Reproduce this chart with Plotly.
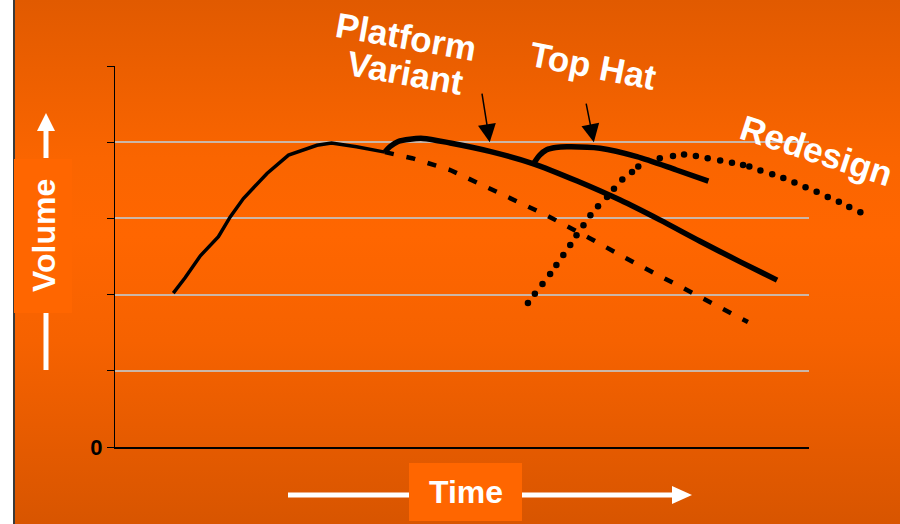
import base64
import plotly.graph_objects as go

# Product volume over time (time 0-100, volume 0-5)
base_t = [8.4, 10.1, 12.3, 14.9, 16.6, 18.5, 21.9, 25.0, 29.1, 31.2, 34.8, 38.9]
base_v = [2.02, 2.22, 2.51, 2.76, 3.02, 3.26, 3.59, 3.83, 3.96, 3.99, 3.94, 3.87]

decline_t = [38.9, 42.8, 48.3, 55.5, 62.1, 68.4, 74.9, 81.8, 91.2]
decline_v = [3.87, 3.79, 3.635, 3.33, 3.045, 2.74, 2.415, 2.09, 1.64]

platform_t = [38.9, 39.6, 40.8, 42.5, 44.4, 48.3, 54.0, 60.2, 66.6, 72.8, 78.5, 84.3, 90.1, 95.4]
platform_v = [3.87, 3.94, 4.01, 4.04, 4.05, 3.99, 3.88, 3.72, 3.49, 3.24, 2.98, 2.70, 2.43, 2.19]

tophat_t = [60.4, 61.2, 62.2, 63.5, 65.1, 69.9, 75.2, 80.9, 85.5]
tophat_v = [3.73, 3.83, 3.90, 3.93, 3.94, 3.92, 3.81, 3.635, 3.49]

redesign_t = [59.5, 60.5, 61.6, 62.7, 63.6, 64.6, 65.6, 66.5, 67.5, 68.5, 69.6, 70.9,
              71.9, 73.1, 74.5, 75.4, 78.5, 80.4, 82.0, 83.7, 85.4, 87.2, 88.9, 90.5,
              91.4, 93.0, 94.7, 96.3, 97.9, 99.5, 101.1, 102.7, 104.3, 105.8, 107.4]
redesign_v = [1.89, 2.01, 2.14, 2.27, 2.39, 2.52, 2.65, 2.78, 2.91, 3.04, 3.16, 3.28,
              3.39, 3.51, 3.61, 3.68, 3.79, 3.82, 3.84, 3.82, 3.79, 3.76, 3.73, 3.70,
              3.68, 3.63, 3.58, 3.53, 3.47, 3.41, 3.35, 3.28, 3.22, 3.15, 3.08]

y_ticks = [0, 1, 2, 3, 4, 5]
y_ticktext = ["0", "", "", "", "", ""]

W, H = 900, 524
FONT = "Arial, Liberation Sans, sans-serif"

# plot area in pixels
PX_L, PX_R, PX_T, PX_B = 115, 809, 66, 447
T_MAX = 100
T_EXT = 110  # the redesign curve runs past the end of the time axis


def fx(px):
    return px / W


def fy(py):
    return 1 - py / H


px_per_t = (PX_R - PX_L) / T_MAX

fig = go.Figure()
fig.add_trace(go.Scatter(x=base_t, y=base_v, mode="lines",
                         line=dict(color="black", width=3.5), hoverinfo="skip"))
fig.add_trace(go.Scatter(x=decline_t, y=decline_v, mode="lines",
                         line=dict(color="black", width=4.5, dash="9px,13px"), hoverinfo="skip"))
fig.add_trace(go.Scatter(x=platform_t, y=platform_v, mode="lines",
                         line=dict(color="black", width=5.5, shape="spline", smoothing=0.8),
                         hoverinfo="skip"))
fig.add_trace(go.Scatter(x=tophat_t, y=tophat_v, mode="lines",
                         line=dict(color="black", width=5.5, shape="spline", smoothing=0.8),
                         hoverinfo="skip"))
fig.add_trace(go.Scatter(x=redesign_t, y=redesign_v, mode="markers", xaxis="x2", yaxis="y2",
                         marker=dict(color="black", size=6.5), hoverinfo="skip"))

# orange background gradient
svg = ('<svg xmlns="http://www.w3.org/2000/svg" width="885" height="524" preserveAspectRatio="none">'
       '<defs><linearGradient id="g" x1="0" y1="0" x2="0" y2="1">'
       '<stop offset="0" stop-color="#E15A00"/>'
       '<stop offset="0.3" stop-color="#FA6500"/>'
       '<stop offset="0.45" stop-color="#FF6600"/>'
       '<stop offset="0.65" stop-color="#F66200"/>'
       '<stop offset="1" stop-color="#D85500"/>'
       '</linearGradient></defs><rect width="885" height="524" fill="url(#g)"/></svg>')
bg_src = "data:image/svg+xml;base64," + base64.b64encode(svg.encode()).decode()

shapes = [
    dict(type="line", xref="paper", yref="paper", x0=fx(14), x1=fx(14), y0=0, y1=1,
         line=dict(color="#3a3a3a", width=2)),
    # Volume label box and arrow
    dict(type="rect", xref="paper", yref="paper", x0=fx(14), x1=fx(72), y0=fy(313), y1=fy(159),
         fillcolor="#FF6600", line=dict(width=0)),
    dict(type="line", xref="paper", yref="paper", x0=fx(46), x1=fx(46), y0=fy(158), y1=fy(129),
         line=dict(color="white", width=5)),
    dict(type="path", xref="paper", yref="paper",
         path=f"M{fx(37)},{fy(131)} L{fx(55)},{fy(131)} L{fx(46)},{fy(113)} Z",
         fillcolor="white", line=dict(width=0)),
    dict(type="line", xref="paper", yref="paper", x0=fx(46), x1=fx(46), y0=fy(313), y1=fy(370),
         line=dict(color="white", width=5)),
    # Time label box and arrow
    dict(type="rect", xref="paper", yref="paper", x0=fx(409), x1=fx(522), y0=fy(521), y1=fy(463),
         fillcolor="#FF6600", line=dict(width=0)),
    dict(type="line", xref="paper", yref="paper", x0=fx(288), x1=fx(409), y0=fy(495), y1=fy(495),
         line=dict(color="white", width=5)),
    dict(type="line", xref="paper", yref="paper", x0=fx(522), x1=fx(674), y0=fy(495), y1=fy(495),
         line=dict(color="white", width=5)),
    dict(type="path", xref="paper", yref="paper",
         path=f"M{fx(672)},{fy(486)} L{fx(672)},{fy(504)} L{fx(692)},{fy(495)} Z",
         fillcolor="white", line=dict(width=0)),
]

label_font = dict(family=FONT, size=35, color="white", weight="bold")
annotations = [
    dict(text="Platform", xref="paper", yref="paper", x=fx(406), y=fy(37), showarrow=False,
         textangle=10, font=label_font, xanchor="center", yanchor="middle"),
    dict(text="Variant", xref="paper", yref="paper", x=fx(405), y=fy(72), showarrow=False,
         textangle=10, font=label_font, xanchor="center", yanchor="middle"),
    dict(text="Top Hat", xref="paper", yref="paper", x=fx(593), y=fy(66), showarrow=False,
         textangle=11, font=label_font, xanchor="center", yanchor="middle"),
    dict(text="Redesign", xref="paper", yref="paper", x=fx(817), y=fy(150), showarrow=False,
         textangle=18, font=label_font, xanchor="center", yanchor="middle"),
    dict(text="Volume", xref="paper", yref="paper", x=fx(44), y=fy(236), showarrow=False,
         textangle=-90, font=dict(family=FONT, size=32, color="white", weight="bold"),
         xanchor="center", yanchor="middle"),
    dict(text="Time", xref="paper", yref="paper", x=fx(466), y=fy(492), showarrow=False,
         font=dict(family=FONT, size=32, color="white", weight="bold"),
         xanchor="center", yanchor="middle"),
    # pointer arrows onto the curves
    dict(text="", x=54.0, y=4.0, xref="x", yref="y", showarrow=True, ax=-8, ay=-50,
         arrowhead=2, arrowsize=2.4, arrowwidth=1.5, arrowcolor="black"),
    dict(text="", x=69.0, y=4.0, xref="x", yref="y", showarrow=True, ax=-8, ay=-40,
         arrowhead=2, arrowsize=2.4, arrowwidth=1.5, arrowcolor="black"),
]

y_domain = [fy(PX_B), fy(PX_T)]
fig.update_layout(
    width=W, height=H,
    margin=dict(l=0, r=0, t=0, b=0),
    paper_bgcolor="white",
    plot_bgcolor="rgba(0,0,0,0)",
    showlegend=False,
    template="none",
    images=[dict(source=bg_src, xref="paper", yref="paper", x=fx(15), y=1,
                 sizex=1 - fx(15), sizey=1, sizing="stretch", layer="below",
                 xanchor="left", yanchor="top")],
    shapes=shapes,
    annotations=annotations,
    xaxis=dict(domain=[fx(PX_L), fx(PX_R)], range=[0, T_MAX], showgrid=False, zeroline=False,
               showline=True, linecolor="black", linewidth=1.5, showticklabels=False,
               ticks="", fixedrange=True, automargin=False),
    yaxis=dict(domain=y_domain, range=[0, 5], tickvals=y_ticks, ticktext=y_ticktext,
               showgrid=True, gridcolor="#CBB6A8", gridwidth=2, zeroline=False,
               showline=True, linecolor="black", linewidth=1, ticks="outside", ticklen=7,
               tickcolor="black", tickwidth=1,
               tickfont=dict(family=FONT, size=22, color="black", weight="bold"),
               fixedrange=True, automargin=False),
    # same time scale, stretched further right, for the redesign dots
    xaxis2=dict(domain=[fx(PX_L), fx(PX_L + T_EXT * px_per_t)], range=[0, T_EXT],
                visible=False, anchor="y2", fixedrange=True),
    yaxis2=dict(domain=y_domain, range=[0, 5], visible=False, anchor="x2", fixedrange=True),
)

fig.write_html("out.html")
